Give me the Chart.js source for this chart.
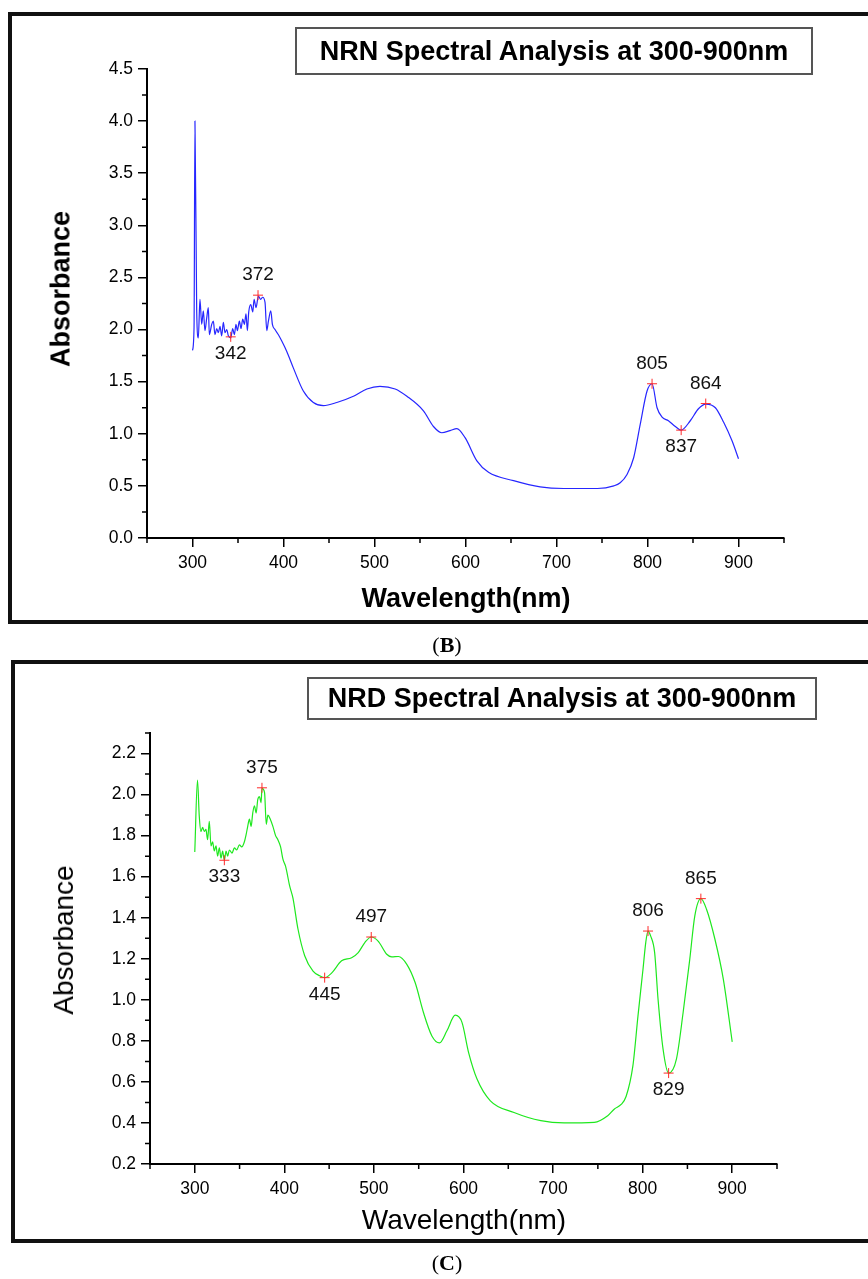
<!DOCTYPE html>
<html>
<head>
<meta charset="utf-8">
<script src="https://cdn.jsdelivr.net/npm/chart.js@4.4.1/dist/chart.umd.min.js"></script>
<style>
  body { margin: 0; background: #fff; width: 868px; height: 1279px; overflow: hidden; position: relative;
         font-family: 'Liberation Sans', Arial, sans-serif; color: #000; }
  .panel { position: absolute; border: 4px solid #111; box-sizing: border-box; }
  .tbox { position: absolute; border: 2px solid #555; box-sizing: border-box; display: flex;
          align-items: center; justify-content: center; font-weight: bold; font-size: 27px; }
  .lbl { position: absolute; transform: translate(-50%, -50%); white-space: nowrap; }
  .rot { transform: translate(-50%, -50%) rotate(-90deg); }
  .cap { position: absolute; transform: translate(-50%, -50%); font-family: 'Liberation Serif', 'Times New Roman', serif; font-size: 22px; }
  canvas { position: absolute; left: 0; }
</style>
</head>
<body>
<div class="panel" style="left:8px;top:12px;width:880px;height:612px"></div>
<div class="panel" style="left:11px;top:660px;width:880px;height:583px"></div>

<canvas id="nrn" width="868" height="640" style="top:0"></canvas>
<canvas id="nrd" width="868" height="639" style="top:640px"></canvas>

<div class="tbox" style="left:295px;top:27px;width:518px;height:48px">NRN Spectral Analysis at 300-900nm</div>
<div class="tbox" style="left:307px;top:677px;width:510px;height:43px">NRD Spectral Analysis at 300-900nm</div>

<div class="lbl" style="left:466px;top:598px;font-size:27px;font-weight:bold">Wavelength(nm)</div>
<div class="lbl rot" style="left:61px;top:289px;font-size:27px;font-weight:bold">Absorbance</div>
<div class="lbl" style="left:464px;top:1220px;font-size:28px">Wavelength(nm)</div>
<div class="lbl rot" style="left:64px;top:940px;font-size:28px">Absorbance</div>

<div class="cap" style="left:447px;top:645px">(<b>B</b>)</div>
<div class="cap" style="left:447px;top:1263px">(<b>C</b>)</div>

<script>
// (B) NRN spectrum
const nrnWavelength = [300, 301.7, 302.7, 304.6, 306.4, 308.2, 310.1, 311.9, 313.7, 315.6, 317.4, 318.5, 321.1, 322.9,
  324.7, 326.6, 328.4, 330.2, 332.1, 333.9, 335.7, 337.6, 339.4, 342, 344.2, 346, 347.8, 349.3, 351.5, 353.3, 355.2,
  357, 358.8, 360.3, 361.8, 364, 366.2, 367.7, 369.8, 372.4, 374.9, 377.1, 379.7, 381.6, 383.4, 386, 387.8, 390.7,
  394.4, 398.1, 403.6, 410.9, 421.8, 432.8, 443.8, 458.6, 476.8, 491.6, 506, 522.7, 535.6, 553.8, 564.8, 574, 583,
  590.5, 599.7, 612.5, 625.3, 652.8, 682, 708, 745, 763, 770, 777.5, 784.8, 792, 799.5, 805, 810.5, 816, 823, 830.6,
  837, 847, 856, 864, 874.6, 883.7, 893, 900];
const nrnAbsorbance = [1.80, 2.02, 4.00, 2.18, 1.92, 2.29, 2.05, 2.18, 1.99, 2.11, 2.21, 1.95, 2.05, 2.08,
  1.95, 2.01, 1.97, 2.03, 1.94, 2.07, 1.97, 2.00, 1.94, 1.92, 2.01, 1.95, 2.05, 1.99, 2.08, 2.01, 2.10,
  2.05, 2.15, 1.99, 2.17, 2.24, 2.17, 2.29, 2.21, 2.32, 2.29, 2.31, 2.26, 1.99, 2.08, 2.18, 2.05, 2.00,
  1.95, 1.89, 1.79, 1.63, 1.41, 1.30, 1.27, 1.30, 1.36, 1.43, 1.455, 1.43, 1.36, 1.22, 1.07, 1.01, 1.03,
  1.05, 0.96, 0.74, 0.63, 0.55, 0.49, 0.475, 0.475, 0.50, 0.53, 0.61, 0.77, 1.09, 1.41, 1.48, 1.25, 1.16, 1.125, 1.07,
  1.035, 1.125, 1.24, 1.285, 1.25, 1.11, 0.93, 0.76];
const nrnPeakWavelength = [342, 372, 805, 837, 864];
const nrnPeakAbsorbance = [1.93, 2.33, 1.48, 1.035, 1.29];
const nrnValleys = [342, 837];
const nrnXTicks = [300, 400, 500, 600, 700, 800, 900];
const nrnXMinor = [250, 350, 450, 550, 650, 750, 850, 950];
const nrnYTicks = [0, 0.5, 1.0, 1.5, 2.0, 2.5, 3.0, 3.5, 4.0, 4.5];
const nrnYMinor = [0.25, 0.75, 1.25, 1.75, 2.25, 2.75, 3.25, 3.75, 4.25];

// (C) NRD spectrum
const nrdWavelength = [300, 303, 305, 306.9, 308.7, 310.6, 312.5, 314.3, 316.2, 318.1, 319.9, 321.8, 323.7, 325.5,
  327.4, 329.3, 331.1, 333, 334.9, 336.7, 338.6, 341.6, 344.2, 346.8, 349.8, 352.4, 355.4, 357.3, 359.1, 361, 362.9,
  364.7, 366.6, 368.5, 370.3, 372.2, 374, 375, 377.9, 379.8, 381.6, 384.3, 387.2, 390.2, 392.8, 395.8, 398.4, 401.4,
  405.9, 409.6, 415.2, 422.7, 432, 439.5, 445, 452.7, 463.9, 475.1, 482.5, 490, 497, 504.9, 514.3, 519.9, 527.3,
  536.7, 546, 555.3, 564.7, 573.2, 581.5, 590.8, 598.3, 605.7, 615.1, 630, 656.4, 686.3, 712.4, 746, 761, 768.5, 776,
  781.6, 789.1, 794.8, 800.4, 803.5, 806, 809, 813.4, 817.2, 822.8, 829, 837.7, 845.2, 852.6, 858.2, 865, 871.4,
  880.7, 890.1, 900];
const nrdAbsorbance = [1.72, 2.07, 1.895, 1.82, 1.84, 1.82, 1.83, 1.78, 1.87, 1.75, 1.77, 1.725, 1.75, 1.70,
  1.74, 1.69, 1.725, 1.68, 1.725, 1.70, 1.73, 1.715, 1.74, 1.73, 1.755, 1.745, 1.77, 1.805, 1.845, 1.88, 1.845,
  1.91, 1.945, 1.91, 1.975, 1.99, 1.96, 2.03, 2.01, 1.855, 1.90, 1.88, 1.845, 1.80, 1.78, 1.745, 1.685, 1.65,
  1.555, 1.495, 1.345, 1.215, 1.14, 1.117, 1.108, 1.13, 1.19, 1.205, 1.23, 1.28, 1.306, 1.285, 1.222, 1.209, 1.211,
  1.173, 1.084, 0.938, 0.824, 0.79, 0.849, 0.925, 0.89, 0.743, 0.614, 0.508, 0.451, 0.411, 0.40, 0.403, 0.435, 0.468, 0.49,
  0.53, 0.678, 0.922, 1.149, 1.28, 1.335, 1.31, 1.23, 1.003, 0.76, 0.643, 0.711, 0.938, 1.197, 1.408, 1.493, 1.44,
  1.295, 1.10, 0.795];
const nrdPeakWavelength = [333, 375, 445, 497, 806, 829, 865];
const nrdPeakAbsorbance = [1.68, 2.033, 1.108, 1.306, 1.335, 0.643, 1.493];
const nrdValleys = [333, 445, 829];
const nrdXTicks = [300, 400, 500, 600, 700, 800, 900];
const nrdXMinor = [250, 350, 450, 550, 650, 750, 850, 950];
const nrdYTicks = [0.2, 0.4, 0.6, 0.8, 1.0, 1.2, 1.4, 1.6, 1.8, 2.0, 2.2];
const nrdYMinor = [0.3, 0.5, 0.7, 0.9, 1.1, 1.3, 1.5, 1.7, 1.9, 2.1, 2.3];

const chartsData = [
  {
    id: 'nrn', wl: nrnWavelength, abs: nrnAbsorbance,
    peakWl: nrnPeakWavelength, peakAbs: nrnPeakAbsorbance, valleys: nrnValleys,
    xTicks: nrnXTicks, xMinor: nrnXMinor, yTicks: nrnYTicks, yMinor: nrnYMinor,
    yMin: 0, yMax: 4.5, color: '#2626ff', yWidth: 147,
    padding: { left: 0, top: 69, right: 84, bottom: 62 }
  },
  {
    id: 'nrd', wl: nrdWavelength, abs: nrdAbsorbance,
    peakWl: nrdPeakWavelength, peakAbs: nrdPeakAbsorbance, valleys: nrdValleys,
    xTicks: nrdXTicks, xMinor: nrdXMinor, yTicks: nrdYTicks, yMinor: nrdYMinor,
    yMin: 0.2, yMax: 2.3, color: '#1ee81e', yWidth: 150,
    padding: { left: 0, top: 93, right: 91, bottom: 75 }
  }
];

const tickFont = { family: "'Liberation Sans', Arial, sans-serif", size: 17.5 };

chartsData.forEach(chart => {
  // small outward minor ticks, Chart.js only draws the major ones
  const minorTicks = {
    id: 'minorTicks',
    afterDraw(c) {
      const { ctx, chartArea: a, scales: { x, y } } = c;
      ctx.save();
      ctx.strokeStyle = '#000';
      ctx.lineWidth = 1.5;
      ctx.beginPath();
      chart.xMinor.forEach(v => {
        const px = x.getPixelForValue(v);
        ctx.moveTo(px, a.bottom); ctx.lineTo(px, a.bottom + 5);
      });
      chart.yMinor.forEach(v => {
        const py = y.getPixelForValue(v);
        ctx.moveTo(a.left, py); ctx.lineTo(a.left - 5, py);
      });
      ctx.stroke();
      ctx.restore();
    }
  };

  // wavelength labels next to the red markers
  const peakLabels = {
    id: 'peakLabels',
    afterDatasetsDraw(c) {
      const ctx = c.ctx;
      const meta = c.getDatasetMeta(1);
      ctx.save();
      ctx.font = "19px 'Liberation Sans', Arial, sans-serif";
      ctx.fillStyle = '#111';
      ctx.textAlign = 'center';
      ctx.textBaseline = 'middle';
      meta.data.forEach((pt, i) => {
        const wl = chart.peakWl[i];
        const below = chart.valleys.includes(wl);
        ctx.fillText(String(wl), pt.x, pt.y + (below ? 17 : -20));
      });
      ctx.restore();
    }
  };

  const ctx = document.getElementById(chart.id).getContext('2d');
  new Chart(ctx, {
    type: 'scatter',
    data: {
      datasets: [
        {
          data: chart.wl.map((w, i) => ({ x: w, y: chart.abs[i] })),
          showLine: true,
          borderColor: chart.color,
          borderWidth: 1.2,
          pointRadius: 0,
          cubicInterpolationMode: 'monotone',
          order: 1
        },
        {
          data: chart.peakWl.map((w, i) => ({ x: w, y: chart.peakAbs[i] })),
          showLine: false,
          pointStyle: 'cross',
          pointRadius: 5,
          borderColor: '#ff2a2a',
          borderWidth: 1,
          order: 0
        }
      ]
    },
    options: {
      responsive: false,
      animation: false,
      devicePixelRatio: 1,
      layout: { padding: chart.padding },
      plugins: { legend: { display: false }, tooltip: { enabled: false } },
      scales: {
        x: {
          type: 'linear', min: 250, max: 950,
          afterBuildTicks: s => { s.ticks = chart.xTicks.map(v => ({ value: v })); },
          afterFit: s => { s.height = 40; },
          ticks: { color: '#000', font: tickFont, padding: 6, maxRotation: 0 },
          grid: { drawOnChartArea: false, color: '#000', tickLength: 9, lineWidth: 1.5 },
          border: { display: true, color: '#000', width: 2 }
        },
        y: {
          type: 'linear', min: chart.yMin, max: chart.yMax,
          afterBuildTicks: s => { s.ticks = chart.yTicks.map(v => ({ value: v })); },
          afterFit: s => { s.width = chart.yWidth; },
          ticks: { color: '#000', font: tickFont, padding: 5, callback: v => v.toFixed(1) },
          grid: { drawOnChartArea: false, color: '#000', tickLength: 9, lineWidth: 1.5 },
          border: { display: true, color: '#000', width: 2 }
        }
      }
    },
    plugins: [minorTicks, peakLabels]
  });
});
</script>
</body>
</html>
